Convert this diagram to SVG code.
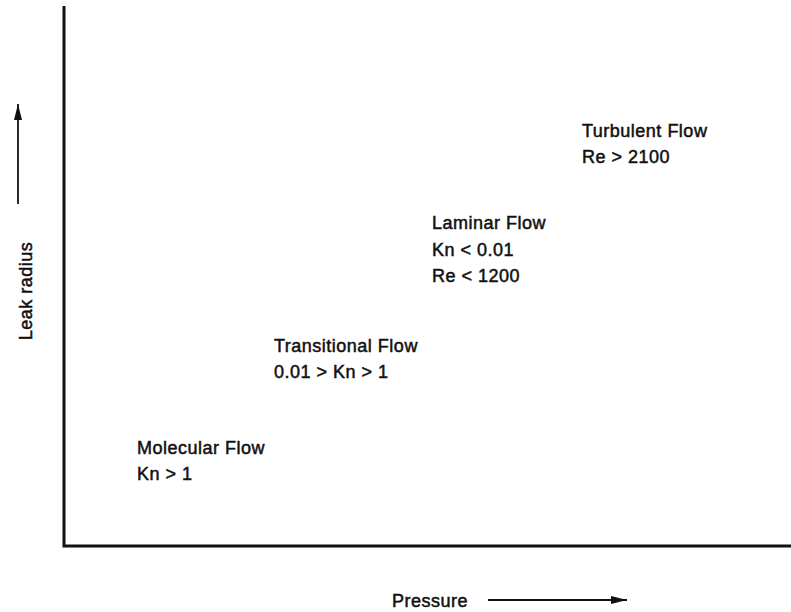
<svg xmlns="http://www.w3.org/2000/svg" width="791" height="612" viewBox="0 0 791 612">
<style>
text{font-family:"Liberation Sans",Arial,Helvetica,sans-serif;font-size:18px;letter-spacing:0.5px;fill:#111;stroke:#111;stroke-width:0.5}
.axis{stroke:#111;stroke-width:3;fill:none}
.arr{stroke:#111;stroke-width:1.8;fill:none}
</style>
<defs>
<marker id="ah" viewBox="0 0 16 8" refX="16" refY="4" markerWidth="16" markerHeight="8" markerUnits="userSpaceOnUse" orient="auto">
<path d="M0,0 L16,4 L0,8 Z" fill="#111"/>
</marker>
</defs>
<rect width="791" height="612" fill="#fff"/>
<g id="axes">
<path class="axis" d="M64,6 V546 H791"/>
</g>
<g id="connectors">
<line class="arr" x1="18" y1="204" x2="18" y2="104" marker-end="url(#ah)"/>
<line class="arr" x1="488" y1="600" x2="627" y2="600" marker-end="url(#ah)"/>
</g>
<g id="ylabel"><text transform="translate(32,291) rotate(-90)" text-anchor="middle">Leak radius</text></g>
<g id="xlabel"><text x="392" y="607">Pressure</text></g>
<g id="turbulent"><text x="582" y="137">Turbulent Flow</text><text x="582" y="163">Re &gt; 2100</text></g>
<g id="laminar"><text x="432" y="229">Laminar Flow</text><text x="432" y="256">Kn &lt; 0.01</text><text x="432" y="282">Re &lt; 1200</text></g>
<g id="transitional"><text x="274" y="352">Transitional Flow</text><text x="274" y="378">0.01 &gt; Kn &gt; 1</text></g>
<g id="molecular"><text x="137" y="454">Molecular Flow</text><text x="137" y="480">Kn &gt; 1</text></g>
</svg>
